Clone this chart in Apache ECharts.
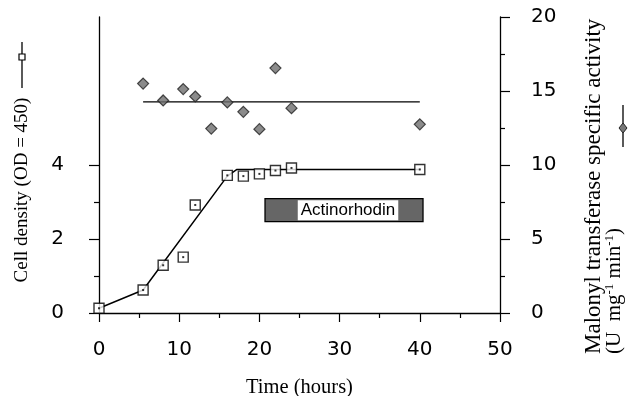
<!DOCTYPE html>
<html>
<head>
<meta charset="utf-8">
<script src="https://cdn.jsdelivr.net/npm/echarts@6/dist/echarts.min.js"></script>
<style>
  html, body { margin: 0; padding: 0; background: #fff; }
  #chart { width: 632px; height: 396px; }
</style>
</head>
<body>
<div id="chart"></div>
<script>
// cell density (OD 450), measured points
const cellTime = [0, 5.5, 8, 10.5, 12, 16, 18, 20, 22, 24, 40];
const cellDensity = [0.13, 0.62, 1.29, 1.51, 2.92, 3.72, 3.70, 3.76, 3.85, 3.92, 3.88];
// hand-drawn trend line through cell density
const cellFitTime = [0, 5.5, 16, 17.2, 40];
const cellFitValue = [0.13, 0.62, 3.70, 3.88, 3.88];

// malonyl transferase specific activity
const malTime = [5.5, 8, 10.5, 12, 14, 16, 18, 20, 22, 24, 40];
const malActivity = [15.5, 14.36, 15.13, 14.63, 12.46, 14.23, 13.59, 12.42, 16.55, 13.84, 12.75];
const malMeanTime = [5.5, 40];
const malMeanValue = [14.27, 14.27];

// actinorhodin production period (x from/to, left-axis y from/to)
const actinoTime = [20.7, 40.4];
const actinoLevel = [2.47, 3.09];

const xTicks = [0, 10, 20, 30, 40, 50];
const leftLabels = [0, 2, 4];
const leftMinor = [1, 3];

const pairs = (xs, ys) => xs.map((x, i) => [x, ys[i]]);

const chart = echarts.init(document.getElementById('chart'));

const tickFont = { fontFamily: 'DejaVu Sans', fontSize: 20, color: '#000' };
const axisLine = { show: true, lineStyle: { color: '#000', width: 1.3 } };

const option = {
  animation: false,
  grid: { left: 99, right: 132, top: 17, bottom: 83, containLabel: false, outerBoundsMode: 'none' },
  xAxis: {
    type: 'value',
    min: xTicks[0],
    max: xTicks[xTicks.length - 1],
    interval: 10,
    name: 'Time (hours)',
    nameLocation: 'middle',
    nameGap: 64,
    nameTextStyle: { fontFamily: 'Liberation Serif', fontSize: 20.5, color: '#000' },
    axisLine,
    axisTick: { length: 9, lineStyle: { color: '#000', width: 1.2 } },
    minorTick: { show: true, splitNumber: 2, length: 5, lineStyle: { color: '#000', width: 1.2 } },
    axisLabel: { ...tickFont, margin: 27 },
    splitLine: { show: false }
  },
  yAxis: [
    {
      type: 'value',
      position: 'left',
      min: 0,
      max: 8,
      interval: 2,
      axisLine,
      axisTick: { length: 10, customValues: leftLabels, lineStyle: { color: '#000', width: 1.2 } },
      axisLabel: { ...tickFont, margin: 35, customValues: leftLabels },
      splitLine: { show: false }
    },
    {
      type: 'value',
      position: 'left',
      min: 0,
      max: 8,
      interval: 2,
      axisLine: { show: false },
      axisTick: { show: true, length: 5, customValues: leftMinor, lineStyle: { color: '#000', width: 1.2 } },
      axisLabel: { show: false, customValues: leftMinor },
      splitLine: { show: false }
    },
    {
      type: 'value',
      position: 'right',
      min: 0,
      max: 20,
      interval: 5,
      axisLine,
      axisTick: { length: 10, lineStyle: { color: '#000', width: 1.2 } },
      minorTick: { show: true, splitNumber: 2, length: 5, lineStyle: { color: '#000', width: 1.2 } },
      axisLabel: { ...tickFont, margin: 31 },
      splitLine: { show: false }
    }
  ],
  series: [
    {
      name: 'Cell density trend',
      type: 'line',
      yAxisIndex: 0,
      data: pairs(cellFitTime, cellFitValue),
      symbol: 'none',
      lineStyle: { color: '#000', width: 1.5 },
      silent: true,
      z: 2,
      markArea: {
        silent: true,
        itemStyle: { color: '#666', borderColor: '#000', borderWidth: 1.3 },
        label: {
          show: true,
          position: 'inside',
          offset: [4, 0],
          color: '#000',
          backgroundColor: '#fff',
          fontFamily: 'Liberation Sans',
          fontSize: 17,
          padding: [2, 3, 1, 3]
        },
        data: [[
          { name: 'Actinorhodin', coord: [actinoTime[0], actinoLevel[1]] },
          { coord: [actinoTime[1], actinoLevel[0]] }
        ]]
      }
    },
    {
      name: 'Cell density',
      type: 'scatter',
      yAxisIndex: 0,
      data: pairs(cellTime, cellDensity),
      symbol: 'rect',
      symbolSize: 10,
      itemStyle: { color: '#fff', borderColor: '#000', borderWidth: 1.4 },
      z: 3
    },
    {
      name: 'Cell density dot',
      type: 'scatter',
      yAxisIndex: 0,
      data: pairs(cellTime, cellDensity),
      symbol: 'rect',
      symbolSize: 2,
      itemStyle: { color: '#000' },
      silent: true,
      z: 4
    },
    {
      name: 'Malonyl transferase mean',
      type: 'line',
      yAxisIndex: 2,
      data: pairs(malMeanTime, malMeanValue),
      symbol: 'none',
      lineStyle: { color: '#000', width: 1.3 },
      silent: true,
      z: 2
    },
    {
      name: 'Malonyl transferase',
      type: 'scatter',
      yAxisIndex: 2,
      data: pairs(malTime, malActivity),
      symbol: 'diamond',
      symbolSize: 11,
      itemStyle: { color: '#6e6e6e', borderColor: '#222', borderWidth: 1.2 },
      z: 3
    }
  ],
  graphic: [
    {
      type: 'text',
      x: 22, y: 190, rotation: Math.PI / 2,
      style: {
        text: 'Cell density (OD = 450)',
        fontFamily: 'Liberation Serif', fontSize: 19, fill: '#000',
        align: 'center', verticalAlign: 'middle'
      }
    },
    { type: 'line', shape: { x1: 22, y1: 42, x2: 22, y2: 88 }, style: { stroke: '#000', lineWidth: 1.3 } },
    { type: 'rect', shape: { x: 19, y: 54, width: 6, height: 6 }, style: { fill: '#fff', stroke: '#000', lineWidth: 1.2 } },
    {
      type: 'text',
      x: 594, y: 354, rotation: Math.PI / 2,
      style: {
        text: 'Malonyl transferase specific activity',
        fontFamily: 'Liberation Serif', fontSize: 23, fill: '#000',
        align: 'left', verticalAlign: 'middle'
      }
    },
    {
      type: 'text',
      x: 614, y: 354, rotation: Math.PI / 2,
      style: {
        text: '{n|(U  mg}{s|-1}{n| min}{s|-1}{n|)}',
        align: 'left', verticalAlign: 'middle',
        rich: {
          n: { fontFamily: 'Liberation Serif', fontSize: 21, fill: '#000', lineHeight: 22, verticalAlign: 'bottom' },
          s: { fontFamily: 'Liberation Serif', fontSize: 13, fill: '#000', lineHeight: 22, verticalAlign: 'top' }
        }
      }
    },
    { type: 'line', shape: { x1: 623, y1: 105, x2: 623, y2: 147 }, style: { stroke: '#000', lineWidth: 1.3 } },
    { type: 'polygon', shape: { points: [[623, 123], [627, 128], [623, 133], [619, 128]] }, style: { fill: '#777', stroke: '#222', lineWidth: 1 } }
  ]
};

chart.setOption(option);
window.addEventListener('resize', () => chart.resize());
</script>
</body>
</html>
